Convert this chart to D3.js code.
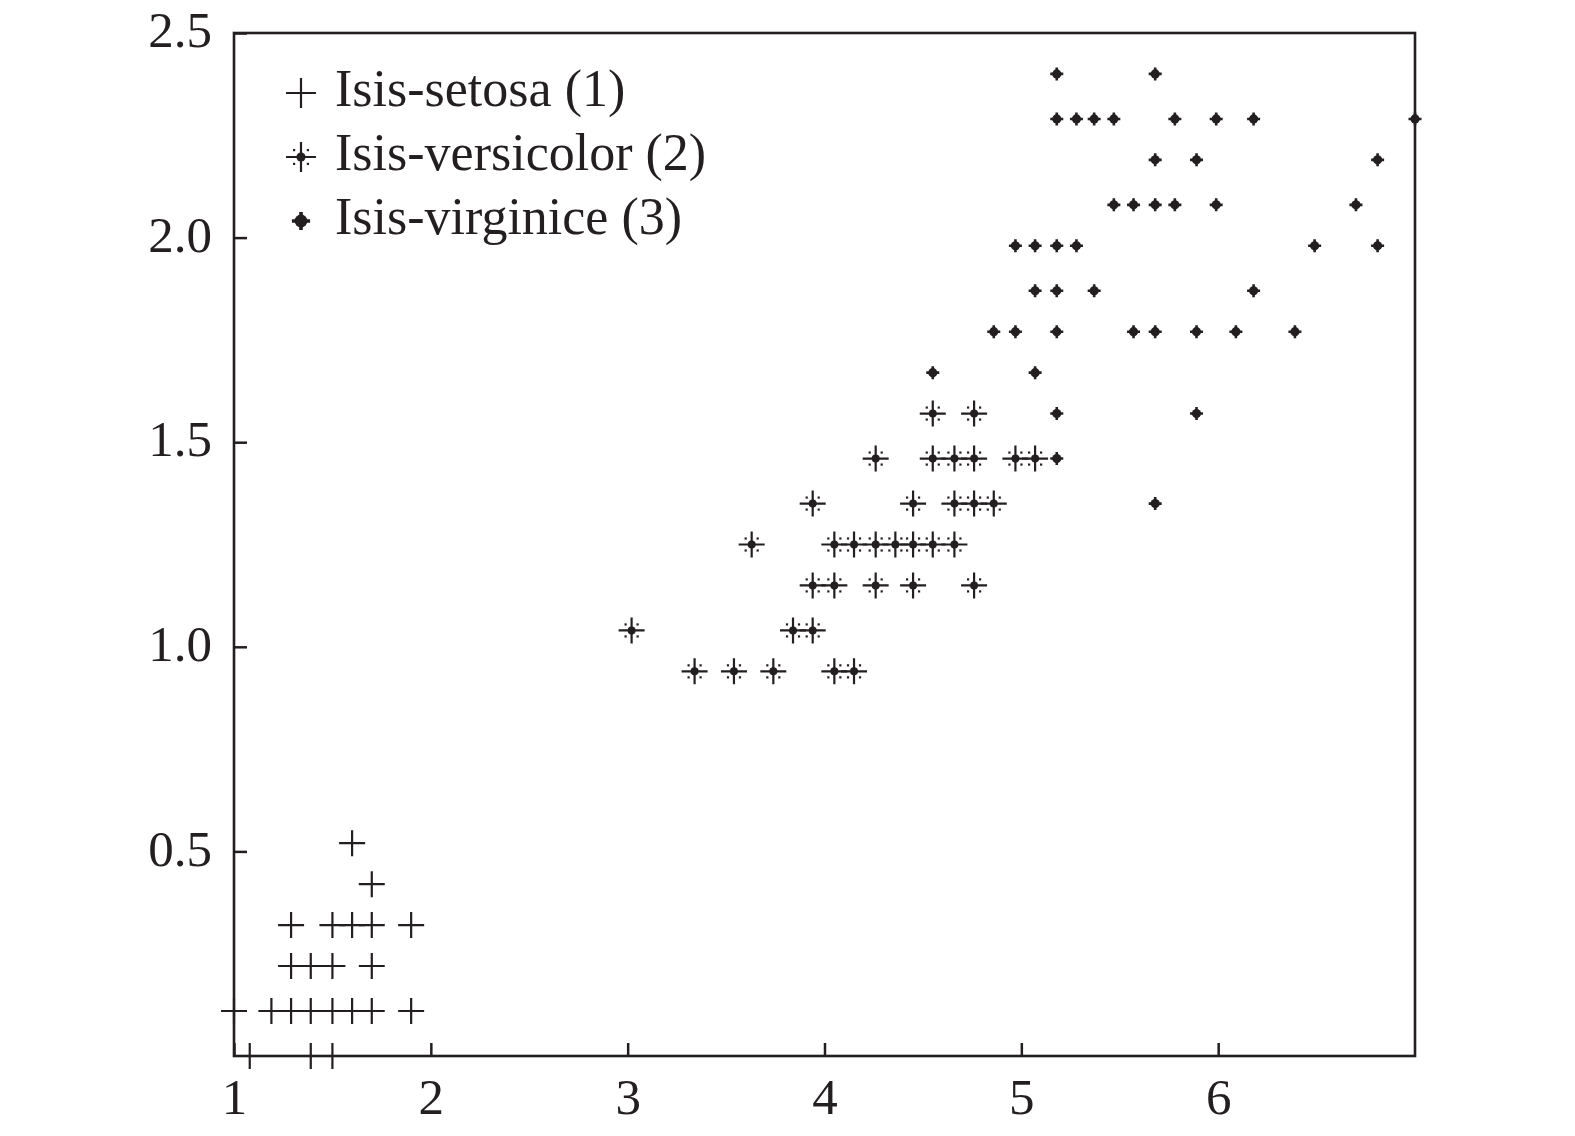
<!DOCTYPE html>
<html>
<head>
<meta charset="utf-8">
<script src="https://cdn.jsdelivr.net/npm/d3@7"></script>
<style>
  body { margin: 0; background: #fff; }
  text { font-family: "Liberation Serif", "Times New Roman", serif; fill: #231f20; }
</style>
</head>
<body>
<div id="chart"></div>
<script>
// petal length (x) / petal width (y), one row per width level
var setosa = [
  [1.60, 0.52],
  [1.70, 0.42],
  [1.29, 0.32], [1.50, 0.32], [1.60, 0.32], [1.70, 0.32], [1.90, 0.32],
  [1.29, 0.22], [1.39, 0.22], [1.50, 0.22], [1.70, 0.22],
  [1.00, 0.11], [1.19, 0.11], [1.29, 0.11], [1.39, 0.11], [1.50, 0.11], [1.60, 0.11], [1.70, 0.11], [1.90, 0.11],
  [1.08, 0.00], [1.39, 0.00], [1.50, 0.00]
];
var versicolor = [
  [4.55, 1.57], [4.76, 1.57],
  [4.26, 1.46], [4.55, 1.46], [4.66, 1.46], [4.76, 1.46], [4.97, 1.46], [5.07, 1.46],
  [3.94, 1.35], [4.45, 1.35], [4.66, 1.35], [4.76, 1.35], [4.86, 1.35],
  [3.63, 1.25], [4.05, 1.25], [4.15, 1.25], [4.26, 1.25], [4.36, 1.25], [4.45, 1.25], [4.55, 1.25], [4.66, 1.25],
  [3.94, 1.15], [4.05, 1.15], [4.26, 1.15], [4.45, 1.15], [4.76, 1.15],
  [3.02, 1.04], [3.84, 1.04], [3.94, 1.04],
  [3.34, 0.94], [3.54, 0.94], [3.74, 0.94], [4.05, 0.94], [4.15, 0.94]
];
var virginica = [
  [5.18, 2.40], [5.68, 2.40],
  [5.18, 2.29], [5.28, 2.29], [5.37, 2.29], [5.47, 2.29], [5.78, 2.29], [5.99, 2.29], [6.18, 2.29], [7.00, 2.29],
  [5.68, 2.19], [5.89, 2.19], [6.81, 2.19],
  [5.47, 2.08], [5.57, 2.08], [5.68, 2.08], [5.78, 2.08], [5.99, 2.08], [6.70, 2.08],
  [4.97, 1.98], [5.07, 1.98], [5.18, 1.98], [5.28, 1.98], [6.49, 1.98], [6.81, 1.98],
  [5.07, 1.87], [5.18, 1.87], [5.37, 1.87], [6.18, 1.87],
  [4.86, 1.77], [4.97, 1.77], [5.18, 1.77], [5.57, 1.77], [5.68, 1.77], [5.89, 1.77], [6.09, 1.77], [6.39, 1.77],
  [4.55, 1.67], [5.07, 1.67],
  [5.18, 1.57], [5.89, 1.57],
  [5.18, 1.46],
  [5.68, 1.35]
];
var legendLabels = ["Isis-setosa (1)", "Isis-versicolor (2)", "Isis-virginice (3)"];
var xTicks = [1, 2, 3, 4, 5, 6];
var yTicks = [0.5, 1.0, 1.5, 2.0, 2.5];

var ink = "#231f20";
var W = 1575, H = 1136;
var plotLeft = 234, plotRight = 1415, plotTop = 33, plotBottom = 1056;

var x = d3.scaleLinear().domain([1, 7]).range([plotLeft, plotRight]);
var y = d3.scaleLinear().domain([0, 2.5]).range([plotBottom, plotTop]);

var svg = d3.select("#chart").append("svg")
    .attr("width", W)
    .attr("height", H)
    .style("background", "#fff");

// markers, drawn at the origin of a translated group
function plusMark(g, s) {
  g.append("path")
      .attr("d", "M" + (-13 * s) + ",0H" + (13 * s) + "M0," + (-13 * s) + "V" + (13 * s))
      .attr("stroke", ink)
      .attr("stroke-width", 2.2)
      .attr("fill", "none");
}
function starMark(g, s) {
  plusMark(g, s);
  g.append("circle").attr("r", 4 * s).attr("fill", ink);
  [[-1, -1], [1, -1], [-1, 1], [1, 1]].forEach(function(d) {
    g.append("rect")
        .attr("x", d[0] * 6 * s - 1.1)
        .attr("y", d[1] * 6 * s - 1.1)
        .attr("width", 2.2)
        .attr("height", 2.2)
        .attr("fill", ink);
  });
}
function dotMark(g, s) {
  g.append("circle").attr("r", 4.6 * s).attr("fill", ink);
  g.append("path")
      .attr("d", "M" + (-6.5 * s) + ",0H" + (6.5 * s) + "M0," + (-6.5 * s) + "V" + (6.5 * s))
      .attr("stroke", ink)
      .attr("stroke-width", 2.6 * s)
      .attr("fill", "none");
}

var series = [
  {data: setosa, mark: plusMark, legendScale: 1.15},
  {data: versicolor, mark: starMark, legendScale: 1.15},
  {data: virginica, mark: dotMark, legendScale: 1.4}
];

// axes with inward ticks
var xAxis = d3.axisBottom(x).tickValues(xTicks).tickFormat(d3.format("d"))
    .tickSize(-13).tickPadding(22);
var yAxis = d3.axisLeft(y).tickValues(yTicks).tickFormat(d3.format(".1f"))
    .tickSize(-13).tickPadding(22);

var gx = svg.append("g")
    .attr("transform", "translate(0," + plotBottom + ")")
    .call(xAxis);
var gy = svg.append("g")
    .attr("transform", "translate(" + plotLeft + ",0)")
    .call(yAxis);

[gx, gy].forEach(function(g) {
  g.select(".domain").remove();
  g.selectAll("line").attr("stroke", ink).attr("stroke-width", 2.5);
  g.selectAll("text")
      .attr("font-size", 51)
      .attr("fill", ink)
      .style("font-family", "'Liberation Serif', 'Times New Roman', serif");
});
gy.selectAll("text").attr("dy", "0.27em");

// frame
svg.append("rect")
    .attr("x", plotLeft)
    .attr("y", plotTop)
    .attr("width", plotRight - plotLeft)
    .attr("height", plotBottom - plotTop)
    .attr("fill", "none")
    .attr("stroke", ink)
    .attr("stroke-width", 2.6);

// points
series.forEach(function(s) {
  svg.append("g").selectAll("g")
      .data(s.data)
    .enter().append("g")
      .attr("transform", function(d) { return "translate(" + x(d[0]) + "," + y(d[1]) + ")"; })
      .each(function() { s.mark(d3.select(this), 1); });
});

// legend
var legend = svg.append("g");
legendLabels.forEach(function(label, i) {
  var cy = 93 + i * 64;
  var g = legend.append("g").attr("transform", "translate(301," + cy + ")");
  series[i].mark(g, series[i].legendScale);
  legend.append("text")
      .attr("x", 335)
      .attr("y", cy + 13)
      .attr("font-size", 52)
      .text(label);
});
</script>
</body>
</html>
